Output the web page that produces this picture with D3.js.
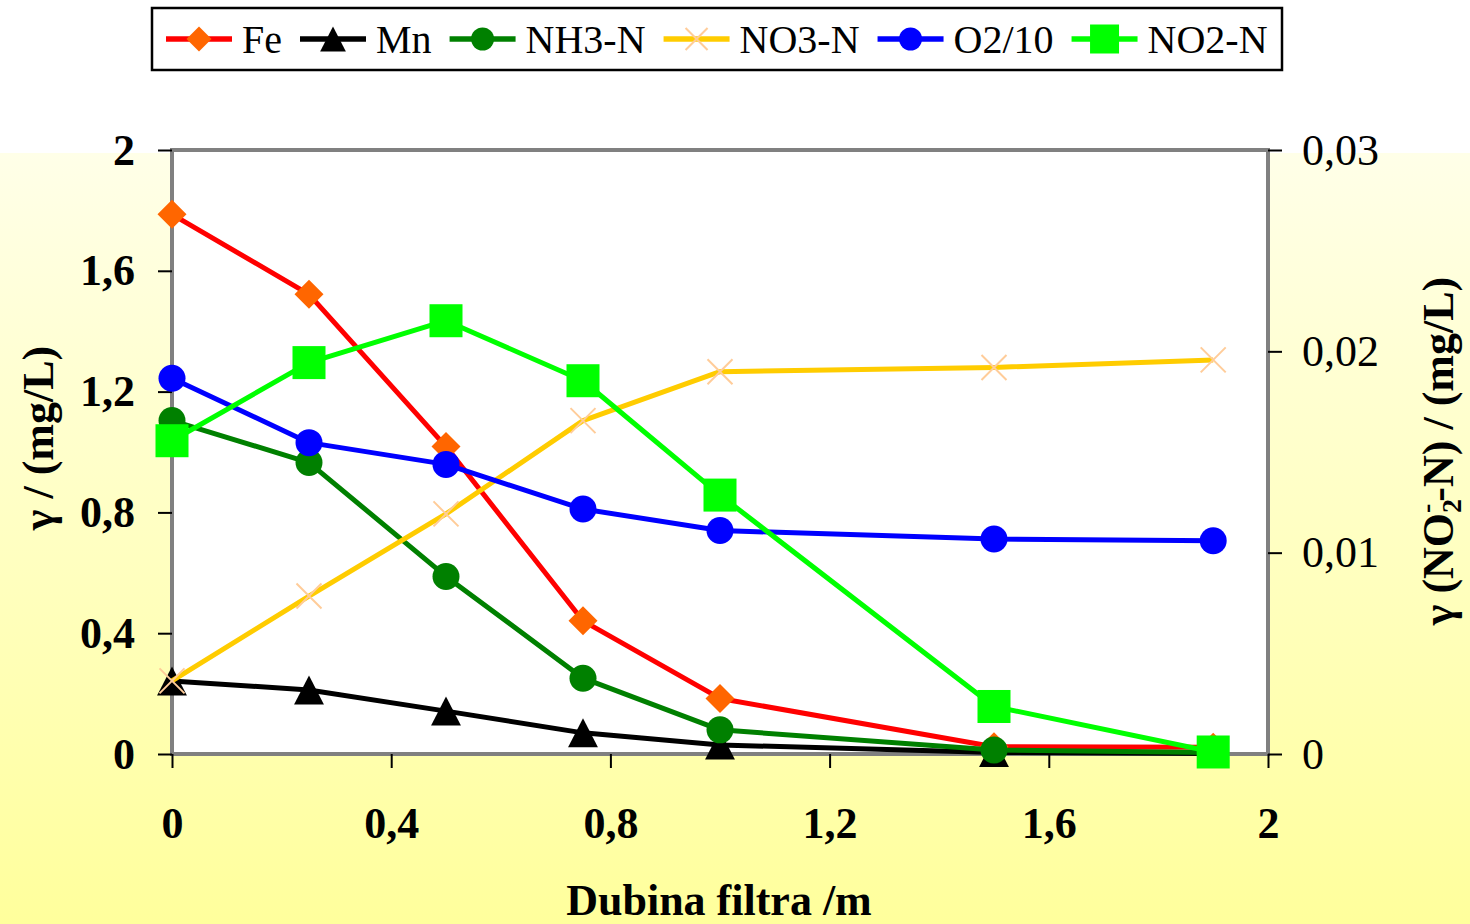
<!DOCTYPE html>
<html>
<head>
<meta charset="utf-8">
<script src="https://cdn.jsdelivr.net/npm/d3@7"></script>
<style>
  html, body { margin: 0; padding: 0; background: #ffffff; }
  svg { display: block; }
</style>
</head>
<body>
<svg id="chart" width="1470" height="924"></svg>
<script>
// ---- data ----
const depth = [0, 0.25, 0.5, 0.75, 1.0, 1.5, 1.9];
const fe    = [1.787, 1.522, 1.018, 0.441, 0.184, 0.024, 0.022];
const mn    = [0.242, 0.212, 0.142, 0.070, 0.030, 0.005, 0.002];
const nh3   = [1.104, 0.965, 0.588, 0.251, 0.080, 0.013, 0.005];
const no3   = [0.242, 0.523, 0.795, 1.104, 1.266, 1.280, 1.305];
const o2    = [1.244, 1.031, 0.959, 0.811, 0.740, 0.712, 0.706];
const no2   = [0.01556, 0.01944, 0.02152, 0.01854, 0.01286, 0.00236, 0.0001];

const seriesNames = ["Fe", "Mn", "NH3-N", "NO3-N", "O2/10", "NO2-N"];
const xTicks = [0, 0.4, 0.8, 1.2, 1.6, 2];
const yLeftTicks = [0, 0.4, 0.8, 1.2, 1.6, 2];
const yRightTicks = [0, 0.01, 0.02, 0.03];

const xTitle = "Dubina filtra /m";
const yLeftTitle = "γ / (mg/L)";

// ---- layout ----
const svg = d3.select("#chart");
const W = 1470, H = 924;
const plot = { left: 172, right: 1268, top: 150, bottom: 754 };
const FONT = "'Liberation Serif', 'Times New Roman', serif";

const x = d3.scaleLinear().domain([0, 2]).range([plot.left, plot.right]);
const yL = d3.scaleLinear().domain([0, 2]).range([plot.bottom, plot.top]);
const yR = d3.scaleLinear().domain([0, 0.03]).range([plot.bottom, plot.top]);

// background gradient
const defs = svg.append("defs");
const grad = defs.append("linearGradient").attr("id", "bg").attr("x1", 0).attr("y1", 0).attr("x2", 0).attr("y2", 1);
grad.append("stop").attr("offset", "0%").attr("stop-color", "#FFFFE8");
grad.append("stop").attr("offset", "100%").attr("stop-color", "#FFFF9C");
svg.append("rect").attr("x", 0).attr("y", 0).attr("width", W).attr("height", H).attr("fill", "#ffffff");
svg.append("rect").attr("x", 0).attr("y", 153).attr("width", W).attr("height", H - 153).attr("fill", "url(#bg)");

// plot area
svg.append("rect")
  .attr("x", plot.left).attr("y", plot.top)
  .attr("width", plot.right - plot.left).attr("height", plot.bottom - plot.top)
  .attr("fill", "#ffffff").attr("stroke", "#808080").attr("stroke-width", 4);

const fmt = d => String(d).replace(".", ",");

function styleAxis(g, bold) {
  g.select(".domain").remove();
  g.selectAll(".tick line").attr("stroke", "#000").attr("stroke-width", 2);
  g.selectAll(".tick text")
    .attr("fill", "#000")
    .style("font-family", FONT)
    .style("font-size", "44px")
    .style("font-weight", bold ? "bold" : "normal");
}

svg.append("g").attr("transform", `translate(${plot.left},0)`)
  .call(d3.axisLeft(yL).tickValues(yLeftTicks).tickSize(14).tickPadding(23).tickFormat(fmt))
  .call(g => styleAxis(g, true));

svg.append("g").attr("transform", `translate(${plot.right},0)`)
  .call(d3.axisRight(yR).tickValues(yRightTicks).tickSize(14).tickPadding(20).tickFormat(fmt))
  .call(g => styleAxis(g, false));

svg.append("g").attr("transform", `translate(0,${plot.bottom})`)
  .call(d3.axisBottom(x).tickValues(xTicks).tickSize(14).tickPadding(39).tickFormat(fmt))
  .call(g => styleAxis(g, true));

// titles
svg.append("text").attr("x", 719).attr("y", 915)
  .attr("text-anchor", "middle")
  .style("font-family", FONT).style("font-size", "44px").style("font-weight", "bold")
  .text(xTitle);

svg.append("text").attr("transform", "translate(53,438) rotate(-90)")
  .attr("text-anchor", "middle")
  .style("font-family", FONT).style("font-size", "44px").style("font-weight", "bold")
  .text(yLeftTitle);

const rt = svg.append("text").attr("transform", "translate(1453,451) rotate(-90)")
  .attr("text-anchor", "middle")
  .style("font-family", FONT).style("font-size", "44px").style("font-weight", "bold");
rt.append("tspan").text("γ (NO");
rt.append("tspan").attr("dy", 8).style("font-size", "28px").text("2");
rt.append("tspan").attr("dy", -26).attr("dx", -14).style("font-size", "28px").text("-");
rt.append("tspan").attr("dy", 18).attr("dx", 2).text("-N) / (mg/L)");

// ---- series ----
const markerDefs = {
  diamond: (g, s, fill) => g.append("path").attr("d", `M0,${-s}L${s},0L0,${s}L${-s},0Z`).attr("fill", fill),
  triangle: (g, s, fill) => g.append("path").attr("d", `M0,${-s}L${s * 1.03},${s}L${-s * 1.03},${s}Z`).attr("fill", fill),
  circle: (g, s, fill) => g.append("circle").attr("r", s).attr("fill", fill),
  square: (g, s, fill) => g.append("rect").attr("x", -s).attr("y", -s).attr("width", 2 * s).attr("height", 2 * s).attr("fill", fill),
  cross: (g, s, fill) => g.append("path").attr("d", `M${-s},${-s}L${s},${s}M${-s},${s}L${s},${-s}`).attr("stroke", fill).attr("stroke-width", 2).attr("fill", "none")
};

const series = [
  { name: seriesNames[0], values: fe,  y: yL, line: "#FF0000", marker: "diamond",  mfill: "#FF6600", size: 14.5, lsize: 12.5 },
  { name: seriesNames[1], values: mn,  y: yL, line: "#000000", marker: "triangle", mfill: "#000000", size: 14.5, lsize: 12.5 },
  { name: seriesNames[2], values: nh3, y: yL, line: "#008000", marker: "circle",   mfill: "#008000", size: 13.5, lsize: 11.5 },
  { name: seriesNames[3], values: no3, y: yL, line: "#FFCC00", marker: "cross",    mfill: "#FFCC99", size: 12.5, lsize: 11 },
  { name: seriesNames[4], values: o2,  y: yL, line: "#0000FF", marker: "circle",   mfill: "#0000FF", size: 13.5, lsize: 11.5 },
  { name: seriesNames[5], values: no2, y: yR, line: "#00FF00", marker: "square",   mfill: "#00FF00", size: 16.5, lsize: 14.5 }
];

series.forEach(s => {
  const pts = depth.map((d, i) => [x(d), s.y(s.values[i])]);
  const g = svg.append("g");
  g.append("path").attr("d", d3.line()(pts))
    .attr("fill", "none").attr("stroke", s.line).attr("stroke-width", 5).attr("stroke-linejoin", "round");
  pts.forEach(p => {
    const mg = g.append("g").attr("transform", `translate(${p[0]},${p[1]})`);
    markerDefs[s.marker](mg, s.size, s.mfill);
  });
});

// ---- legend ----
const legend = svg.append("g");
legend.append("rect").attr("x", 152).attr("y", 8).attr("width", 1130).attr("height", 62)
  .attr("fill", "#ffffff").attr("stroke", "#000").attr("stroke-width", 2.5);
let lx = 166;
const ly = 39;
series.forEach(s => {
  const g = legend.append("g");
  g.append("line").attr("x1", lx).attr("x2", lx + 66).attr("y1", ly).attr("y2", ly)
    .attr("stroke", s.line).attr("stroke-width", 5.5);
  const mg = g.append("g").attr("transform", `translate(${lx + 33},${ly})`);
  markerDefs[s.marker](mg, s.lsize, s.mfill);
  const t = g.append("text").attr("x", lx + 76).attr("y", 53)
    .style("font-family", FONT).style("font-size", "40px")
    .text(s.name);
  const w = t.node().getComputedTextLength();
  lx = lx + 76 + w + 18;
});
</script>
</body>
</html>
